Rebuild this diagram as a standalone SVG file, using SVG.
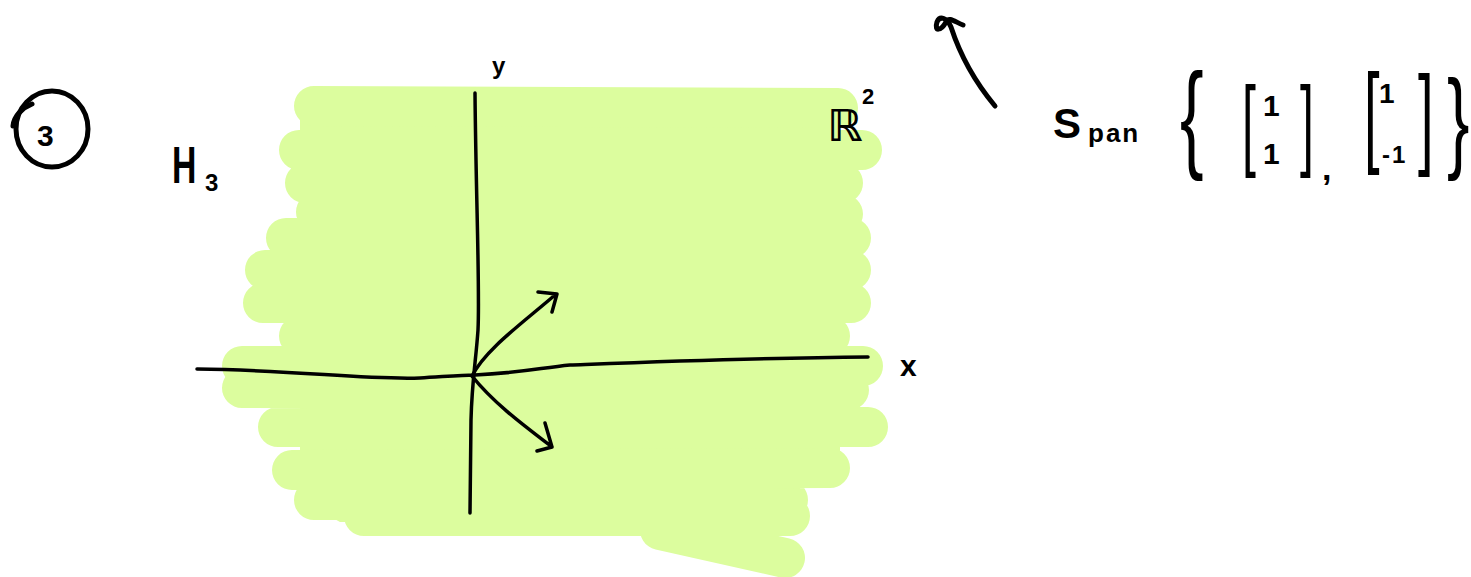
<svg xmlns="http://www.w3.org/2000/svg" width="1471" height="577" viewBox="0 0 1471 577">
<style>
.hl{fill:none;stroke:#dcfd9e;stroke-width:40;stroke-linecap:round}
.hf{fill:#dcfd9e}
.ink{fill:none;stroke:#000;stroke-linecap:round;stroke-linejoin:round}
.ax{stroke-width:3.5}
.pen{stroke-width:5}
.t{font-family:"Liberation Sans","DejaVu Sans",sans-serif;fill:#000;font-weight:bold}
.d{font-family:"Liberation Sans","DejaVu Sans",sans-serif;fill:#000}
.m{font-family:"DejaVu Sans","Liberation Sans",sans-serif;fill:#000;font-weight:bold}
</style>
<rect width="1471" height="577" fill="#fff"/>
<g id="plane-fill">
<polygon class="hf" points="300,100 840,100 840,480 800,480 800,522 340,522 300,500"/>
<path class="hl" d="M314,106 L838,108 M299,150 L862,150 M305,183 L843,183 M316,212 L843,214 M286,238 L851,238 M265,270 L851,270 M263,303 L851,303 M299,336 L830,336 M242,366 L863,366 M242,388 L849,390 M278,427 L868,427 M292,470 L830,468 M314,500 L788,500 M364,516 L790,516 M660,530 L785,558"/>
</g>
<g id="label-3">
<ellipse class="ink pen" cx="52" cy="129" rx="36" ry="38"/>
<path class="ink pen" d="M13,126 C14,116 22,108 32,104"/>
<text class="t" x="37" y="146" font-size="30">3</text>
</g>
<g id="label-H3">
<text class="t" transform="translate(172 183) scale(0.65 1)" font-size="52">H</text>
<text class="t" x="205" y="191" font-size="24">3</text>
</g>
<g id="connectors">
<path class="ink ax" d="M475,93 C476,200 480,290 478,330 C476,360 472,380 471,420 L470,513"/>
<path class="ink ax" d="M197,369 C300,370 360,380 420,378 C440,377 460,375 475,375 C520,373 540,368 570,365 C650,362 750,358 868,357"/>
<path class="ink ax" d="M472,376 C485,350 520,325 555,295 M538,292 L557,294 L552,312"/>
<path class="ink ax" d="M472,376 C495,405 530,430 552,447 M545,423 L552,447 L537,451"/>
<path class="ink pen" d="M995,106 Q965,70 951,27 M951,27 C947,18 940,15 937,22 C934,32 941,31 946,22 C949,16 955,22 963,25"/>
</g>
<g id="label-y"><text class="t" x="492" y="74" font-size="24">y</text></g>
<g id="label-x"><text class="t" x="900" y="376" font-size="30">x</text></g>
<g id="label-R2">
<text class="m" x="827" y="141" font-size="44">ℝ</text>
<text class="t" x="862" y="104" font-size="22">2</text>
</g>
<g id="span">
<text class="t" x="1053" y="138" font-size="42">S</text>
<text class="t" x="1088" y="142" font-size="26" letter-spacing="2">pan</text>
<text class="d" transform="translate(1180 156) scale(0.6 1)" font-size="118">{</text>
<text class="d" transform="translate(1242 157) scale(0.5 1)" font-size="100">[</text>
<text class="t" x="1263" y="116" font-size="30">1</text>
<text class="t" x="1263" y="164" font-size="30">1</text>
<text class="d" transform="translate(1300 157) scale(0.5 1)" font-size="100">]</text>
<text class="t" x="1322" y="180" font-size="34">,</text>
<text class="d" transform="translate(1364 152) scale(0.5 1)" font-size="112">[</text>
<text class="t" x="1379" y="103" font-size="28">1</text>
<text class="t" x="1382" y="163" font-size="24" letter-spacing="2">-1</text>
<text class="d" transform="translate(1418 154) scale(0.5 1)" font-size="112">]</text>
<text class="d" transform="translate(1447 158) scale(0.6 1)" font-size="112">}</text>
</g>
</svg>
